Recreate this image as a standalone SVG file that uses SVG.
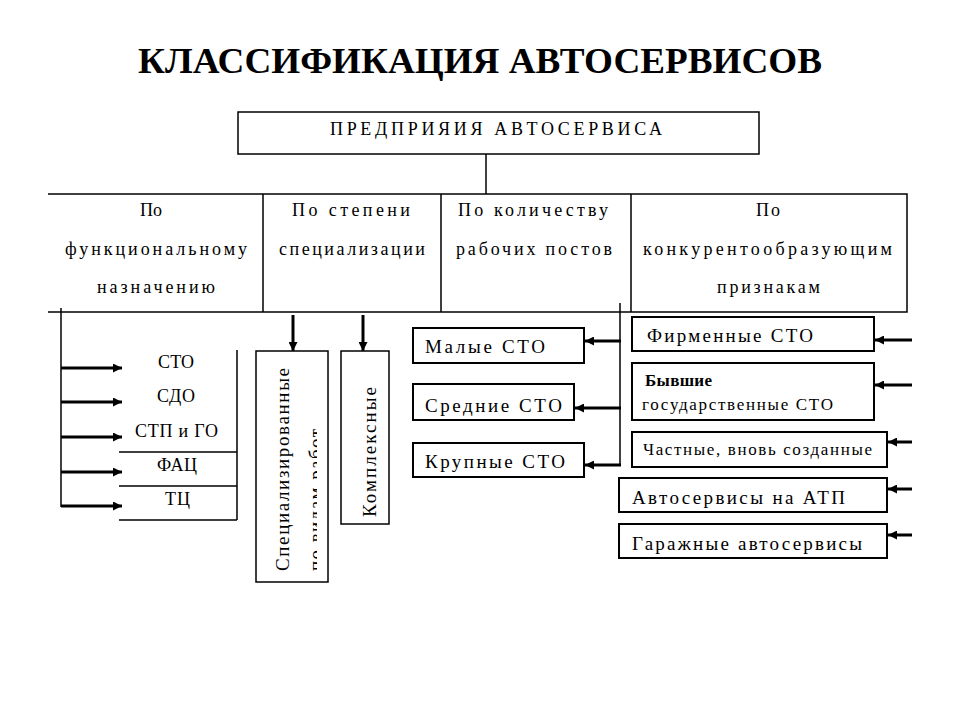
<svg xmlns="http://www.w3.org/2000/svg" width="960" height="720" viewBox="0 0 960 720">
<style>
.t{font-family:"Liberation Serif","DejaVu Serif",serif;fill:#000}
.title{font-size:36px;font-weight:bold}
.h{font-size:18px}
.m{font-size:19px}
.f{font-size:18px}
.s{font-size:17px}
.b{fill:#fff;stroke:#000;stroke-width:1.5}
.b2{fill:#fff;stroke:#000;stroke-width:2}
.ln{stroke:#000;stroke-width:1.5;fill:none}
.ar{stroke:#000;stroke-width:3;fill:none;marker-end:url(#ah)}
</style>
<defs>
<marker id="ah" viewBox="0 0 10 10" refX="10" refY="5" markerWidth="10" markerHeight="9" markerUnits="userSpaceOnUse" orient="auto">
<path d="M0,0 L10,5 L0,10 z" fill="#000"/>
</marker>
<clipPath id="specclip"><rect x="256" y="351" width="61" height="231"/></clipPath>
</defs>
<rect width="960" height="720" fill="#fff"/>
<text class="t title" x="480" y="73" text-anchor="middle" textLength="684" lengthAdjust="spacingAndGlyphs">КЛАССИФИКАЦИЯ АВТОСЕРВИСОВ</text>

<g id="root">
<rect class="b" x="238" y="112" width="521" height="42"/>
<text class="t h" x="330" y="135" textLength="332" lengthAdjust="spacing">ПРЕДПРИЯИЯ АВТОСЕРВИСА</text>
</g>

<g id="header">
<path class="ln" d="M48,194 H907 V312 H48 M263,194 V312 M441,194 V312 M631,194 V312"/>
</g>
<g id="c1">
<text class="t h" x="140" y="216" textLength="22" lengthAdjust="spacing">По</text>
<text class="t h" x="65" y="255" textLength="182" lengthAdjust="spacing">функциональному</text>
<text class="t h" x="97" y="293" textLength="118" lengthAdjust="spacing">назначению</text>
</g>
<g id="c2">
<text class="t h" x="292" y="216" textLength="118" lengthAdjust="spacing">По степени</text>
<text class="t h" x="279" y="255" textLength="146" lengthAdjust="spacing">специализации</text>
</g>
<g id="c3">
<text class="t h" x="458" y="216" textLength="150" lengthAdjust="spacing">По количеству</text>
<text class="t h" x="456" y="255" textLength="156" lengthAdjust="spacing">рабочих постов</text>
</g>
<g id="c4">
<text class="t h" x="756" y="216" textLength="24" lengthAdjust="spacing">По</text>
<text class="t h" x="643" y="255" textLength="249" lengthAdjust="spacing">конкурентообразующим</text>
<text class="t h" x="717" y="293" textLength="103" lengthAdjust="spacing">признакам</text>
</g>

<g id="func-list">
<path class="ln" d="M237,350 V520 M119,452 H237 M119,486 H237 M119,520 H237"/>
<text class="t f" x="158" y="368" textLength="36" lengthAdjust="spacing">СТО</text>
<text class="t f" x="157" y="402" textLength="38" lengthAdjust="spacing">СДО</text>
<text class="t f" x="135" y="437" textLength="83" lengthAdjust="spacing">СТП и ГО</text>
<text class="t f" x="157" y="471" textLength="40" lengthAdjust="spacing">ФАЦ</text>
<text class="t f" x="165" y="505" textLength="25" lengthAdjust="spacing">ТЦ</text>
</g>

<g id="spec">
<rect class="b" x="256" y="351" width="72" height="231"/>
<text class="t m" transform="translate(289,571) rotate(-90)" textLength="203" lengthAdjust="spacing">Специализированные</text>
<g clip-path="url(#specclip)">
<text class="t m" transform="translate(322,571) rotate(-90)" textLength="142" lengthAdjust="spacing">по видам работ</text>
</g>
</g>
<g id="kompl">
<rect class="b" x="341" y="351" width="48" height="173"/>
<text class="t m" transform="translate(376,517) rotate(-90)" textLength="130" lengthAdjust="spacing">Комплексные</text>
</g>

<g id="small">
<rect class="b2" x="413" y="328" width="171" height="35"/>
<text class="t m" x="425" y="353" textLength="120" lengthAdjust="spacing">Малые СТО</text>
</g>
<g id="mid">
<rect class="b2" x="413" y="384" width="161" height="36"/>
<text class="t m" x="425" y="412" textLength="137" lengthAdjust="spacing">Средние СТО</text>
</g>
<g id="large">
<rect class="b2" x="413" y="443" width="171" height="34"/>
<text class="t m" x="425" y="468" textLength="140" lengthAdjust="spacing">Крупные СТО</text>
</g>

<g id="firm">
<rect class="b2" x="632" y="317" width="242" height="34"/>
<text class="t m" x="647" y="342" textLength="166" lengthAdjust="spacing">Фирменные СТО</text>
</g>
<g id="former">
<rect class="b2" x="632" y="363" width="242" height="57"/>
<text class="t s" x="645" y="386" font-weight="bold" textLength="67" lengthAdjust="spacing">Бывшие</text>
<text class="t s" x="642" y="410" textLength="191" lengthAdjust="spacing">государственные СТО</text>
</g>
<g id="private">
<rect class="b2" x="632" y="432" width="255" height="35"/>
<text class="t s" x="643" y="455" textLength="229" lengthAdjust="spacing">Частные, вновь созданные</text>
</g>
<g id="atp">
<rect class="b2" x="619" y="478" width="268" height="34"/>
<text class="t m" x="632" y="504" textLength="213" lengthAdjust="spacing">Автосервисы на АТП</text>
</g>
<g id="garage">
<rect class="b2" x="619" y="524" width="268" height="34"/>
<text class="t m" x="632" y="550" textLength="230" lengthAdjust="spacing">Гаражные автосервисы</text>
</g>

<g id="connectors">
<line class="ln" x1="486" y1="154" x2="486" y2="194" stroke-width="2"/>
<line class="ln" x1="61" y1="308" x2="61" y2="507"/>
<line class="ar" x1="61" y1="368" x2="122" y2="368"/>
<line class="ar" x1="61" y1="402" x2="122" y2="402"/>
<line class="ar" x1="61" y1="437" x2="122" y2="437"/>
<line class="ar" x1="61" y1="472" x2="122" y2="472"/>
<line class="ar" x1="61" y1="506" x2="122" y2="506"/>
<line class="ar" x1="293" y1="315" x2="293" y2="351"/>
<line class="ar" x1="363" y1="315" x2="363" y2="351"/>
<line class="ln" x1="620" y1="303" x2="620" y2="466"/>
<line class="ar" x1="621" y1="341" x2="585" y2="341"/>
<line class="ar" x1="621" y1="408" x2="575" y2="408"/>
<line class="ar" x1="621" y1="465" x2="585" y2="465"/>
<line class="ar" x1="912" y1="340" x2="875" y2="340"/>
<line class="ar" x1="912" y1="385" x2="875" y2="385"/>
<line class="ar" x1="912" y1="442" x2="888" y2="442"/>
<line class="ar" x1="912" y1="489" x2="888" y2="489"/>
<line class="ar" x1="912" y1="535" x2="888" y2="535"/>
</g>
</svg>
